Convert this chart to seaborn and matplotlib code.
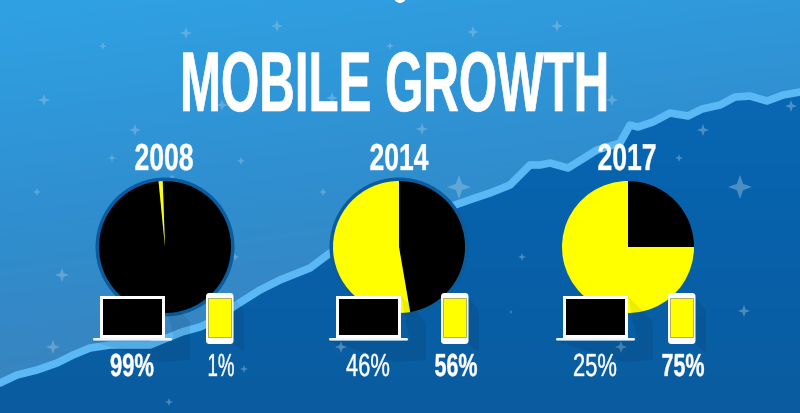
import numpy as np
import pandas as pd
import matplotlib
matplotlib.use("Agg")
import matplotlib.pyplot as plt
import matplotlib.patheffects as pe
from matplotlib.colors import LinearSegmentedColormap
from matplotlib.patches import Circle, FancyBboxPatch, Polygon, Rectangle
from matplotlib.path import Path
from matplotlib.transforms import Affine2D
import seaborn as sns

years = ["2008", "2014", "2017"]
computer_share = [99, 47.3, 25]   # slices as drawn
mobile_share = [1, 52.7, 75]
computer_labels = ["99%", "46%", "25%"]
mobile_labels = ["1%", "56%", "75%"]
start_angles = [92, 90, 90]

growth_x = [0, 17, 37, 57, 73, 90, 110, 133, 150, 167, 182, 200, 215, 233, 260, 280, 310, 330,
            380, 430, 455, 475, 490, 510, 530, 540, 550, 568, 597, 620, 630, 638, 653, 670,
            688, 702, 720, 735, 750, 767, 783, 800]
growth_y = [383, 375, 370, 363, 355, 348, 345, 345, 345, 338, 332, 327, 320, 307, 290, 280, 268, 253,
            234, 215, 205, 198, 193, 185, 165, 165, 163, 168, 150, 143, 125, 127, 122, 113,
            116, 109, 105, 97, 96, 101, 95, 92]

star_x = [186, 277, 473, 557, 390, 612, 332, 222, 422, 103, 44, 135, 112, 37, 62, 172, 241, 235, 244,
          323, 459, 522, 341, 511, 703, 679, 740, 744, 621, 791, 53, 169]
star_y = [33, 26, 32, 26, 46, 100, 98, 105, 129, 46, 100, 130, 158, 192, 275, 177, 161, 257, 369,
          192, 187, 257, 347, 312, 130, 158, 187, 311, 347, 106, 347, 402]
star_r = [6, 6, 6, 6, 4, 6, 6, 6, 6, 4, 6, 6, 4, 4, 7, 3, 4, 4, 4,
          4, 12, 4, 6, 2, 6, 4, 12, 6, 6, 6, 7, 4]

pie_cx = [165, 399, 628]
pie_cy = 247
pie_r = 66

sns.set_theme(style="white")
plt.rcParams["font.family"] = ["Liberation Sans", "DejaVu Sans"]
colors = sns.color_palette(["#000000", "#ffff00"])


class Squeeze(pe.AbstractPathEffect):
    # no condensed font here, so narrow the glyphs and thicken them back a bit
    def __init__(self, cx, sx, stroke):
        super().__init__()
        self.cx = cx
        self.sx = sx
        self.stroke = stroke

    def draw_path(self, renderer, gc, tpath, affine, rgbFace=None):
        squeeze = Affine2D().translate(-self.cx, 0).scale(self.sx, 1).translate(self.cx, 0)
        gc0 = renderer.new_gc()
        gc0.copy_properties(gc)
        gc0.set_linewidth(self.stroke)
        gc0.set_foreground("white")
        renderer.draw_path(gc0, tpath, affine + squeeze, rgbFace)
        gc0.restore()


def gradient(stops, h, w, angle):
    # stops go along a direction slightly off vertical
    yy, xx = np.mgrid[0:1:h * 1j, 0:1:w * 1j]
    t = np.clip(yy * np.cos(angle) + xx * np.sin(angle), 0, 1)
    return LinearSegmentedColormap.from_list("bg", stops)(t)


fig = plt.figure(figsize=(8, 4.13), dpi=100)
ax = fig.add_axes([0, 0, 1, 1], zorder=0)
ax.imshow(gradient(["#2fa2e4", "#2f8fd0", "#3a82bc"], 206, 400, 0.25), extent=(0, 800, 413, 0), aspect="auto", zorder=0)
dark = ax.imshow(gradient(["#0a6cba", "#0762ac", "#0a5c9f"], 206, 400, 0.0), extent=(0, 800, 413, 0), aspect="auto", zorder=1)
under = list(zip(growth_x, growth_y)) + [(800, 413), (0, 413)]
clip = Polygon(under, closed=True, transform=ax.transData, fc="none", ec="none")
ax.add_patch(clip)
dark.set_clip_path(clip)

sns.lineplot(x=growth_x, y=growth_y, color="#5ab8f5", linewidth=5.5, errorbar=None, ax=ax, zorder=2,
             solid_joinstyle="round")

star = Path([(0, 1), (0.26, 0.26), (1, 0), (0.26, -0.26), (0, -1), (-0.26, -0.26), (-1, 0), (-0.26, 0.26), (0, 1)])
ax.scatter(star_x, star_y, s=[(2 * r * 0.72) ** 2 for r in star_r], marker=star, color="#9cc6e2",
           alpha=0.45, linewidths=0, zorder=3)

ax.set_xlim(0, 800)
ax.set_ylim(413, 0)
ax.axis("off")

# pies sit in their own axes, the inverted pixel axes would mirror them
for i, cx in enumerate(pie_cx):
    ring = 0.0 if i == 2 else 3.5
    ax.add_patch(Circle((cx, pie_cy), pie_r + ring, fc="#0b5c9c", ec="none", zorder=4))
    pax = fig.add_axes([(cx - pie_r) / 800, 1 - (pie_cy + pie_r) / 413, 2 * pie_r / 800, 2 * pie_r / 413], zorder=1)
    df = pd.DataFrame({"device": ["computer", "mobile"], "share": [computer_share[i], mobile_share[i]]})
    pax.pie(df["share"], colors=colors, startangle=start_angles[i], counterclock=False,
            radius=1, wedgeprops={"linewidth": 0})
    pax.set_xlim(-1, 1)
    pax.set_ylim(-1, 1)
    pax.patch.set_alpha(0)

over = fig.add_axes([0, 0, 1, 1], zorder=2)
over.set_xlim(0, 800)
over.set_ylim(413, 0)
over.axis("off")
over.patch.set_alpha(0)

laptop_x = [100, 336, 563]
phone_x = [206, 441, 668]
for lx, px in zip(laptop_x, phone_x):
    # long shadows, faint
    over.add_patch(Polygon([(lx + 65, 296), (lx + 90, 322), (lx + 90, 360), (lx + 60, 362), (lx - 8, 341), (lx + 74, 341)],
                           fc="black", alpha=0.07, ec="none"))
    over.add_patch(Polygon([(px + 27, 297), (px + 38, 310), (px + 38, 352), (px + 27, 344)],
                           fc="black", alpha=0.07, ec="none"))
    # laptop
    over.add_patch(Rectangle((lx, 296), 65, 41.5, fc="white", ec="none"))
    over.add_patch(Rectangle((lx + 2.7, 298.5), 59.6, 36.5, fc="black", ec="none"))
    over.add_patch(FancyBboxPatch((lx - 7, 338), 79, 2.6, boxstyle="round,pad=0,rounding_size=1.3",
                                  fc="#eef5fb", ec="none"))
    # phone
    over.add_patch(FancyBboxPatch((px, 293), 27.5, 51, boxstyle="round,pad=0,rounding_size=3.5",
                                  fc="white", ec="none"))
    over.add_patch(Rectangle((px + 2.3, 298), 23, 39, fc="#ffff00", ec="#777744", lw=0.4))

over.add_patch(Circle((400, -3), 6, fc="white", ec="none"))


def label(x, base, text, height, width, weight="bold", stroke=0.0):
    t = over.text(x, base, text, ha="center", va="baseline", color="white", fontsize=height, fontweight=weight)
    box = t.get_window_extent(fig.canvas.get_renderer())
    t.set_path_effects([Squeeze((box.x0 + box.x1) / 2, width / box.width, stroke)])
    return t


label(394.5, 111, "MOBILE GROWTH", 61, 429, stroke=0.5)
for i, cx in enumerate([164, 399, 627]):
    label(cx, 170, years[i], 27, 59, stroke=0.3)

comp_x = [132, 368, 595]
mob_x = [221, 456, 683]
for i in range(3):
    # the bigger share of each year is the bold one
    label(comp_x[i], 376, computer_labels[i], 23, 44, "bold" if i == 0 else "normal", 0.3)
    label(mob_x[i], 376, mobile_labels[i], 23, 27 if i == 0 else 43, "normal" if i == 0 else "bold", 0.3)

fig.savefig("out.png", dpi=100)
